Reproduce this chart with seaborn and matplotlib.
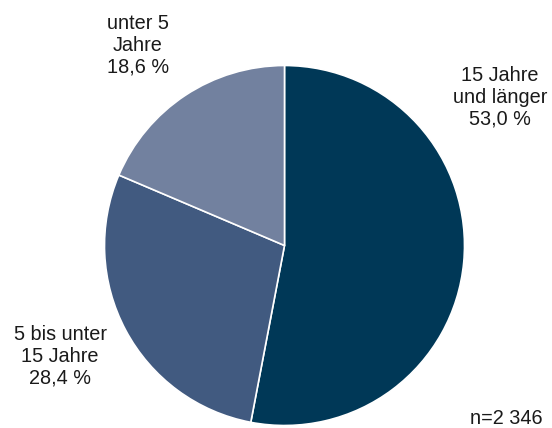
import matplotlib
matplotlib.use("Agg")
import matplotlib.pyplot as plt
import seaborn as sns

categories = ["15 Jahre\nund länger", "5 bis unter\n15 Jahre", "unter 5\nJahre"]
shares = [53.0, 28.4, 18.6]
value_labels = ["53,0 %", "28,4 %", "18,6 %"]
colors = ["#003857", "#415a80", "#72819f"]
note = "n=2 346"

sns.set_theme(style="white")
plt.rcParams["font.family"] = ["Liberation Sans", "DejaVu Sans"]

W, H = 552, 428
fig = plt.figure(figsize=(W / 100, H / 100), dpi=100)
ax = fig.add_axes([0, 0, 1, 1])

ax.pie(shares, colors=colors, startangle=90, counterclock=False,
       center=(284.5, H - 245.5), radius=180, frame=True,
       wedgeprops=dict(edgecolor="white", linewidth=1.2))
ax.set_xlim(0, W)
ax.set_ylim(0, H)
ax.set_aspect("equal")
ax.axis("off")

label_pos = [(500, H - 97), (60, H - 356), (138, H - 45)]
for cat, val, (x, y) in zip(categories, value_labels, label_pos):
    ax.text(x, y, f"{cat}\n{val}", ha="center", va="center",
            fontsize=14.3, color="#1a1a1a", linespacing=1.18)

ax.text(506, H - 418, note, ha="center", va="center", fontsize=14.3, color="#1a1a1a")

fig.savefig("out.png", dpi=100)
